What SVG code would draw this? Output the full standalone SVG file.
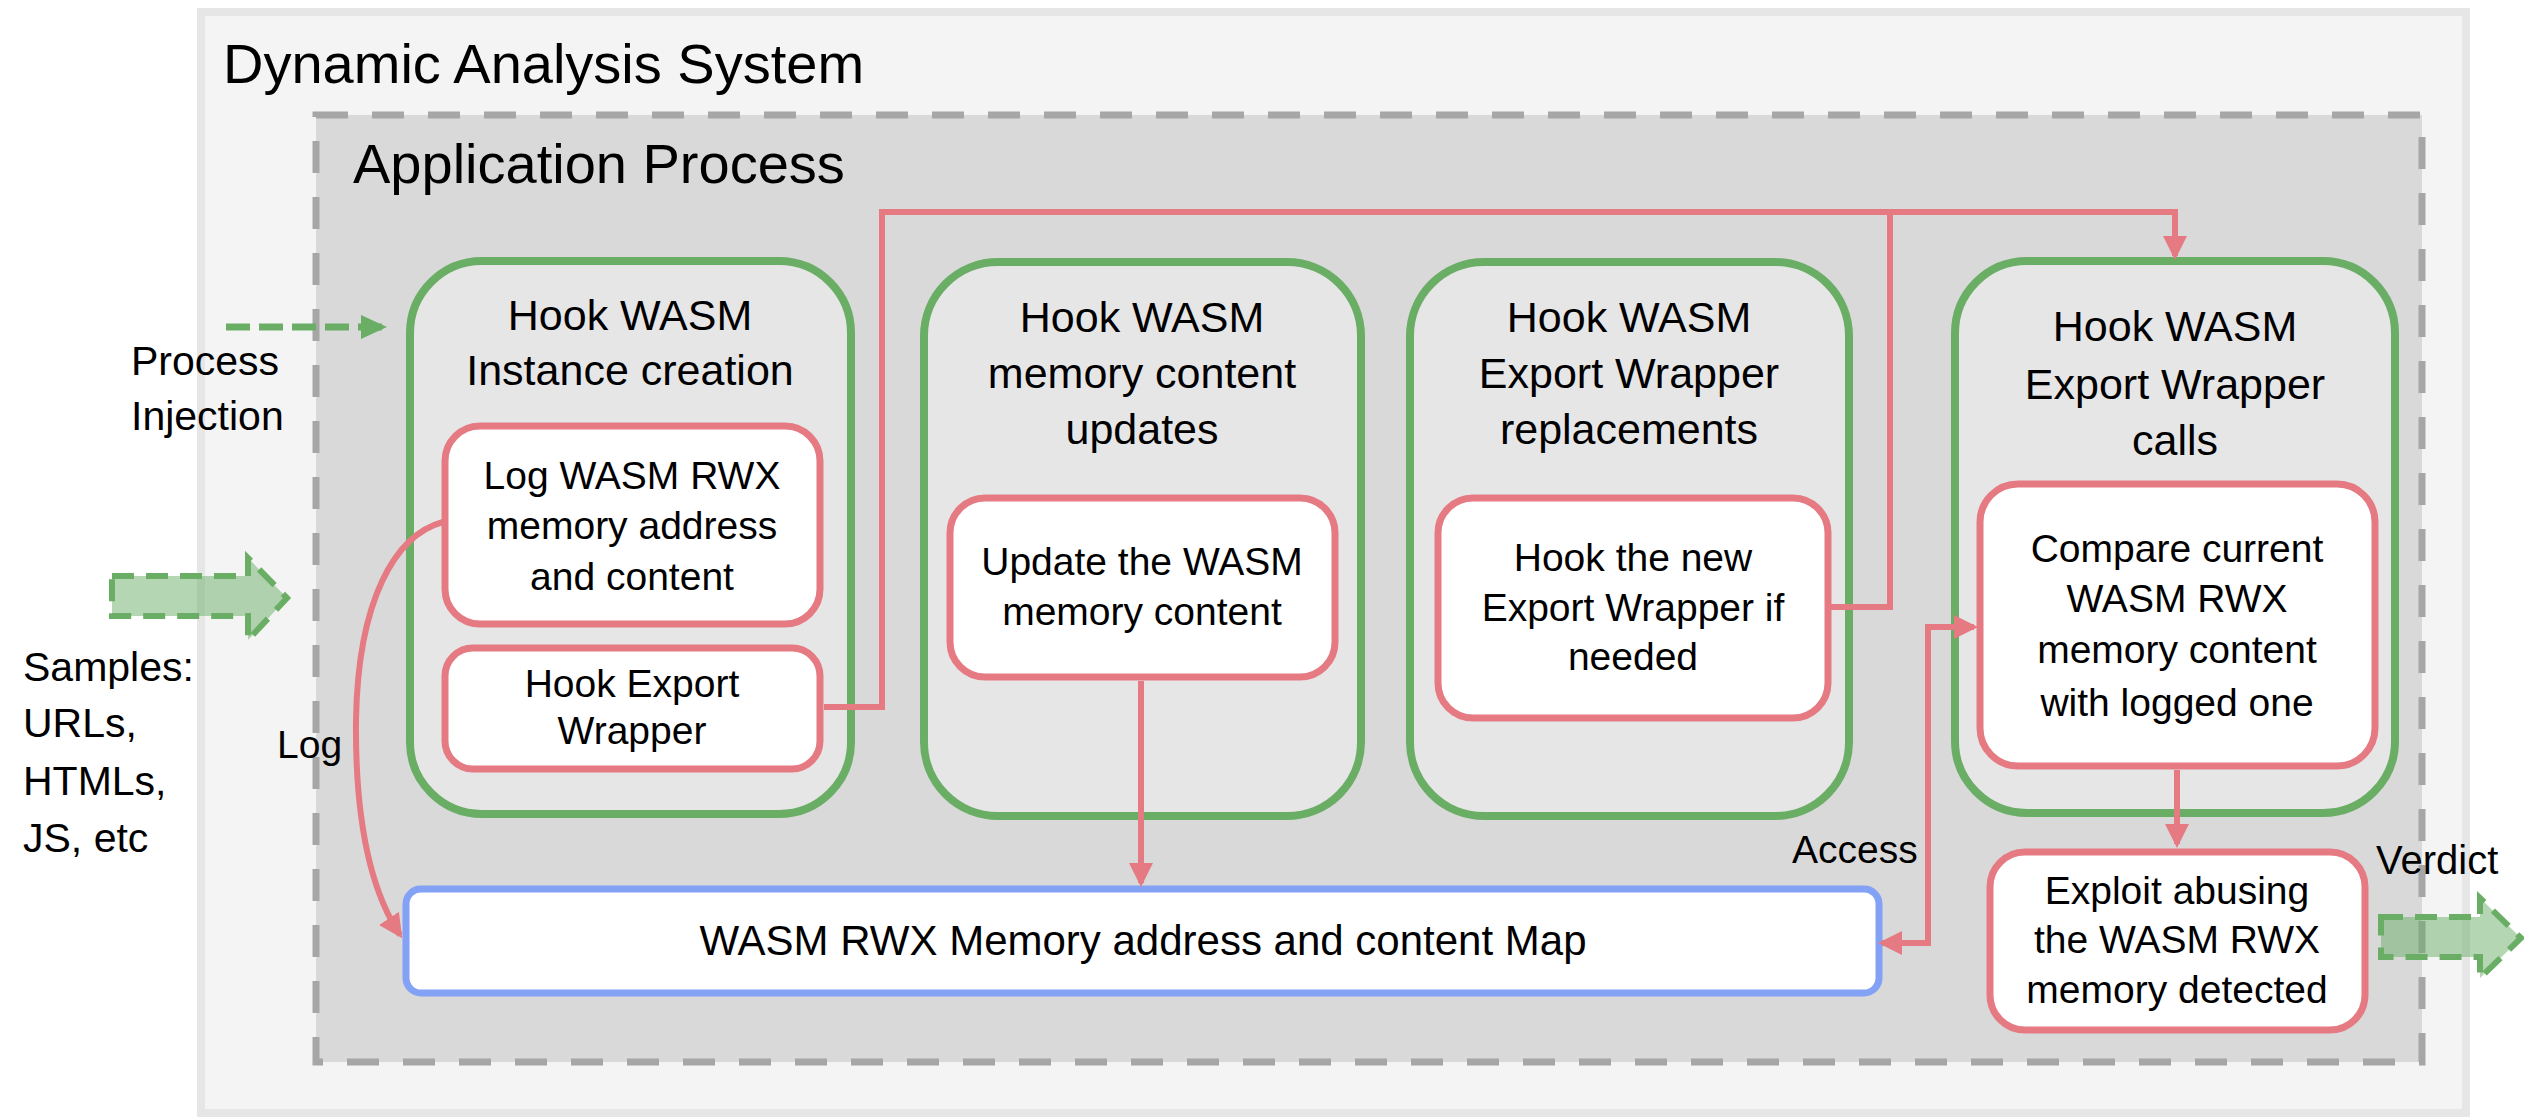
<svg xmlns="http://www.w3.org/2000/svg" width="2524" height="1117" viewBox="0 0 2524 1117">
<style>
text{font-family:"Liberation Sans",Arial,sans-serif;fill:#000;}
.t56{font-size:56px;}
.tg{font-size:43px;text-anchor:middle;}
.tr{font-size:39px;text-anchor:middle;}
.tl{font-size:41px;}
.green{fill:#e7e6e7;stroke:#6aae66;stroke-width:8;}
.red{fill:#fff;stroke:#e57a82;stroke-width:7;}
.blue{fill:#fff;stroke:#83a2f5;stroke-width:7;}
.conn{fill:none;stroke:#e57a82;stroke-width:6;}
.blk{fill:rgba(106,174,102,0.5);stroke:#6aae66;stroke-width:6;stroke-dasharray:22 12;}
</style>
<defs>
<marker id="ah" viewBox="0 0 24 24" refX="20" refY="12" markerWidth="24" markerHeight="24" markerUnits="userSpaceOnUse" orient="auto-start-reverse"><path d="M0,0 L24,12 L0,24 z" fill="#e57a82"/></marker>
<marker id="gh" viewBox="0 0 26 24" refX="22" refY="12" markerWidth="26" markerHeight="24" markerUnits="userSpaceOnUse" orient="auto"><path d="M0,0 L26,12 L0,24 z" fill="#6aae66"/></marker>
</defs>

<g id="system">
<rect x="201" y="12" width="2265" height="1101" fill="#f4f4f4" stroke="#e6e6e6" stroke-width="8"/>
<text class="t56" x="223" y="83">Dynamic Analysis System</text>
</g>

<g id="process">
<rect x="316" y="115" width="2106" height="947" fill="#d9d9d9" stroke="#a6a6a6" stroke-width="7" stroke-dasharray="32 24"/>
<text class="t56" x="353" y="183">Application Process</text>
</g>

<g id="hook-instance">
<rect class="green" x="410" y="261" width="441" height="553" rx="72"/>
<text class="tg" x="630" y="330">Hook WASM</text>
<text class="tg" x="630" y="385">Instance creation</text>
</g>
<g id="log-rwx">
<rect class="red" x="445" y="426" width="375" height="198" rx="35"/>
<text class="tr" x="632" y="489">Log WASM RWX</text>
<text class="tr" x="632" y="539">memory address</text>
<text class="tr" x="632" y="590">and content</text>
</g>
<g id="hook-export">
<rect class="red" x="445" y="648" width="375" height="121" rx="28"/>
<text class="tr" x="632" y="697">Hook Export</text>
<text class="tr" x="632" y="744">Wrapper</text>
</g>

<g id="hook-memory">
<rect class="green" x="924" y="262" width="437" height="554" rx="74"/>
<text class="tg" x="1142" y="332">Hook WASM</text>
<text class="tg" x="1142" y="388">memory content</text>
<text class="tg" x="1142" y="444">updates</text>
</g>
<g id="update-memory">
<rect class="red" x="950" y="498" width="385" height="179" rx="35"/>
<text class="tr" x="1142" y="575">Update the WASM</text>
<text class="tr" x="1142" y="625">memory content</text>
</g>

<g id="hook-replacements">
<rect class="green" x="1410" y="262" width="439" height="554" rx="74"/>
<text class="tg" x="1629" y="332">Hook WASM</text>
<text class="tg" x="1629" y="388">Export Wrapper</text>
<text class="tg" x="1629" y="444">replacements</text>
</g>
<g id="hook-new">
<rect class="red" x="1438" y="498" width="390" height="220" rx="35"/>
<text class="tr" x="1633" y="571">Hook the new</text>
<text class="tr" x="1633" y="621">Export Wrapper if</text>
<text class="tr" x="1633" y="670">needed</text>
</g>

<g id="hook-calls">
<rect class="green" x="1955" y="261" width="440" height="552" rx="72"/>
<text class="tg" x="2175" y="341">Hook WASM</text>
<text class="tg" x="2175" y="399">Export Wrapper</text>
<text class="tg" x="2175" y="455">calls</text>
</g>
<g id="compare">
<rect class="red" x="1980" y="484" width="395" height="282" rx="38"/>
<text class="tr" x="2177" y="562">Compare current</text>
<text class="tr" x="2177" y="612">WASM RWX</text>
<text class="tr" x="2177" y="663">memory content</text>
<text class="tr" x="2177" y="716">with logged one</text>
</g>

<g id="exploit">
<rect class="red" x="1990" y="852" width="375" height="178" rx="35"/>
<text class="tr" x="2177" y="904">Exploit abusing</text>
<text class="tr" x="2177" y="953">the WASM RWX</text>
<text class="tr" x="2177" y="1003">memory detected</text>
</g>

<g id="memory-map">
<rect class="blue" x="406" y="889" width="1473" height="104" rx="15"/>
<text x="1143" y="955" font-size="42" text-anchor="middle">WASM RWX Memory address and content Map</text>
</g>

<g id="connectors">
<path class="conn" d="M824,707 H882 V212 H2175 V256" marker-end="url(#ah)"/>
<path class="conn" d="M1829,607 H1890 V212"/>
<path class="conn" d="M1141,681 V883" marker-end="url(#ah)"/>
<path class="conn" d="M443,522 C395,535 358,600 356,720 C355,820 370,890 400,935" marker-end="url(#ah)"/>
<path class="conn" d="M1882,943 H1928 V627 H1974" marker-start="url(#ah)" marker-end="url(#ah)"/>
<path class="conn" d="M2177,770 V844" marker-end="url(#ah)"/>
<path d="M226,327 H383" fill="none" stroke="#6aae66" stroke-width="7" stroke-dasharray="24 9" marker-end="url(#gh)"/>
<polygon class="blk" points="112,576 248,576 248,558 287,598 248,640 248,616 112,616"/>
<polygon class="blk" points="2381,917 2480,917 2480,898 2521,938 2480,978 2480,957 2381,957"/>
</g>

<g id="labels">
<text class="tl" x="131" y="375">Process</text>
<text class="tl" x="131" y="430">Injection</text>
<text class="tl" x="23" y="681">Samples:</text>
<text class="tl" x="23" y="737">URLs,</text>
<text class="tl" x="23" y="795">HTMLs,</text>
<text class="tl" x="23" y="852">JS, etc</text>
<text x="277" y="758" font-size="39">Log</text>
<text x="1792" y="863" font-size="39">Access</text>
<text x="2376" y="874" font-size="40">Verdict</text>
</g>
</svg>
